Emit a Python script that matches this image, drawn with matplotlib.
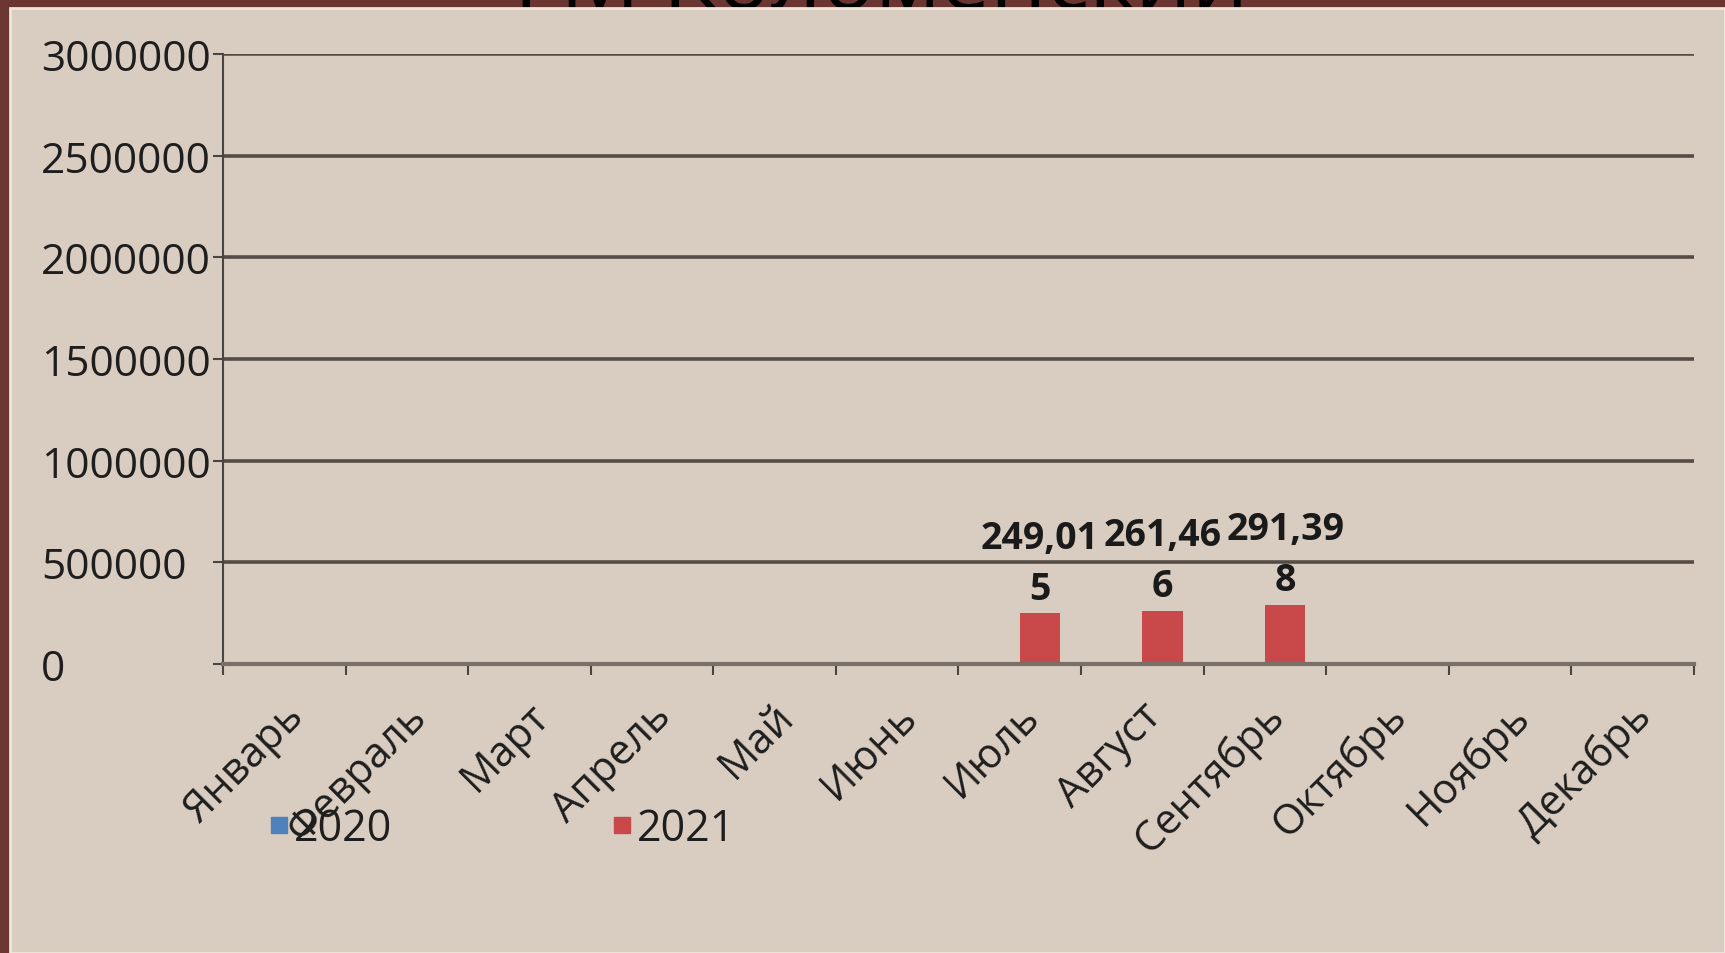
import matplotlib.pyplot as plt
import matplotlib.transforms as mtransforms
from matplotlib.patches import Rectangle
from matplotlib.lines import Line2D
import numpy as np

plt.rcParams['font.family'] = ['Open Sans', 'DejaVu Sans']

months = ['Январь', 'Февраль', 'Март', 'Апрель', 'Май', 'Июнь',
          'Июль', 'Август', 'Сентябрь', 'Октябрь', 'Ноябрь', 'Декабрь']
vals_2020 = [0, 0, 0, 0, 0, 0, 0, 0, 0, 0, 0, 0]
vals_2021 = [0, 0, 0, 0, 0, 0, 249015, 261466, 291398, 0, 0, 0]
labels_2021 = {6: '249,01\n5', 7: '261,46\n6', 8: '291,39\n8'}
yticks = [0, 500000, 1000000, 1500000, 2000000, 2500000, 3000000]

fig = plt.figure(figsize=(17.25, 9.54), dpi=100)
fig.patch.set_facecolor('#6b3631')

# title mostly hidden behind the panel, as in the screenshot
fig.text(0.511, 1 - 9 / 954, 'ГМ Коломенский', ha='center', va='baseline',
         fontsize=64, color='black', zorder=-3)
fig.add_artist(Rectangle((10 / 1725, 0), 1 - 10 / 1725, 1 - 9 / 954,
                         transform=fig.transFigure, facecolor='#d9cdc1',
                         edgecolor='#efe6dc', linewidth=2, zorder=-2))

ax = fig.add_axes([223 / 1725, 1 - 665 / 954, (1694 - 223) / 1725, (665 - 55) / 954])
ax.set_facecolor('none')

x = np.arange(len(months))
w = 0.33
ax.bar(x - w / 2, vals_2020, w, color='#4f81bd', zorder=3)
ax.bar(x + w / 2, vals_2021, w, color='#c9484a', zorder=3)

for i, txt in labels_2021.items():
    ax.annotate(txt, (x[i] + w / 2, vals_2021[i]), xytext=(0, 4),
                textcoords='offset points', ha='center', va='bottom',
                fontsize=27, fontweight='bold', color='#1a1a1a', linespacing=1.45)

ax.set_xlim(-0.5, 11.5)
ax.set_ylim(0, 3000000)
ax.set_yticks(yticks)
ax.set_yticklabels([str(v) for v in yticks])
for lab in ax.get_yticklabels():
    lab.set_ha('left')
ax.tick_params(axis='y', length=7, width=1.5, color='#4a4540', pad=124,
               labelsize=30.5, labelcolor='#1e1e1e')

ax.set_xticks(np.arange(-0.5, 12, 1), minor=True)
ax.tick_params(axis='x', which='major', length=0, pad=30)
ax.tick_params(axis='x', which='minor', length=8, width=1.5, color='#4a4540')
ax.set_xticks(x)
ax.set_xticklabels(months, rotation=45, ha='right', va='top', fontsize=30,
                   color='#1e1e1e')
shift = mtransforms.ScaledTranslation(28 / 100, 11 / 100, fig.dpi_scale_trans)
for lab in ax.get_xticklabels():
    lab.set_transform(lab.get_transform() + shift)

ax.grid(axis='y', color='#554c46', linewidth=2.6, zorder=1)
for s in ['top', 'right']:
    ax.spines[s].set_visible(False)
ax.spines['left'].set_color('#4a4540')
ax.spines['left'].set_linewidth(1.5)
ax.spines['bottom'].set_color('#7b7068')
ax.spines['bottom'].set_linewidth(3)
ax.spines['bottom'].set_zorder(4)

handles = [Line2D([], [], marker='s', linestyle='none', color='#4f81bd', markersize=12),
           Line2D([], [], marker='s', linestyle='none', color='#c9484a', markersize=12)]
fig.legend(handles, ['2020', '2021'], loc='center left',
           bbox_to_anchor=(270 / 1725, 1 - 830 / 954), ncol=2, frameon=False,
           fontsize=31, handlelength=0.4, handletextpad=0.15, columnspacing=5.15,
           borderpad=0, borderaxespad=0, labelcolor='#1e1e1e')

fig.savefig('out.png', dpi=100, facecolor=fig.get_facecolor())
